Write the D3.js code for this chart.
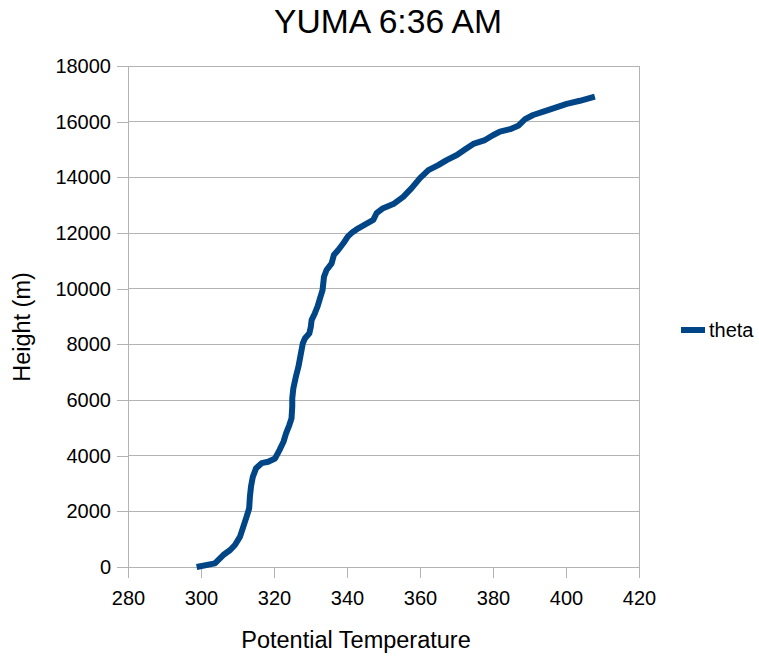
<!DOCTYPE html>
<html><head><meta charset="utf-8">
<script src="https://cdn.jsdelivr.net/npm/d3@7"></script>
<style>body{margin:0;background:#fff}svg{font-family:"Liberation Sans",Arial,sans-serif}</style>
</head><body>
<svg id="c" width="759" height="657"></svg>
<script>
const theta = [298.8,303.8,306.1,308.0,309.3,310.7,311.6,312.5,313.2,313.4,313.7,314.2,315.1,316.6,318.4,320.3,321.5,322.6,323.3,324.2,324.8,325.0,325.0,325.3,326.0,326.7,327.3,327.9,328.5,329.7,330.1,330.3,331.2,331.9,332.6,333.3,333.7,334.4,335.8,336.4,337.6,339.0,340.2,341.5,343.1,344.9,347.2,348.1,349.9,352.7,355.4,357.7,360.0,362.3,365.0,367.3,370.1,372.3,374.6,377.8,380.1,381.9,384.7,386.9,388.8,391.0,393.8,396.5,400.2,403.8,407.9];
const height = [0,130,430,610,790,1090,1450,1810,2110,2530,2890,3240,3550,3730,3780,3900,4200,4500,4800,5100,5340,5760,6060,6420,6840,7200,7620,8040,8220,8400,8640,8870,9120,9350,9650,9950,10430,10670,10910,11210,11390,11630,11870,12030,12170,12300,12470,12710,12890,13040,13300,13610,13970,14260,14440,14620,14800,15000,15200,15340,15520,15640,15730,15850,16090,16240,16360,16480,16640,16750,16900];
const xTicks = [280,300,320,340,360,380,400,420];
const yTicks = [0,2000,4000,6000,8000,10000,12000,14000,16000,18000];
const seriesName = "theta";
const title = "YUMA 6:36 AM";
const xLabel = "Potential Temperature";
const yLabel = "Height (m)";

const svg = d3.select("#c");
const L=128,R=639,T=66,B=567;
const x = d3.scaleLinear().domain([280,420]).range([L,R]);
const y = d3.scaleLinear().domain([0,18000]).range([B,T]);
const grid="#b3b3b3";

svg.append("g").selectAll("line").data(yTicks).join("line")
  .attr("x1",L).attr("x2",R).attr("y1",d=>y(d)).attr("y2",d=>y(d))
  .attr("stroke",grid).attr("stroke-width",1).attr("shape-rendering","crispEdges");
svg.append("line").attr("x1",R).attr("x2",R).attr("y1",T).attr("y2",B).attr("stroke",grid).attr("shape-rendering","crispEdges");

const xa = svg.append("g").attr("transform",`translate(0,${B})`)
  .call(d3.axisBottom(x).tickValues(xTicks).tickSize(11).tickPadding(13).tickSizeOuter(0));
const ya = svg.append("g").attr("transform",`translate(${L},0)`)
  .call(d3.axisLeft(y).tickValues(yTicks).tickSize(11).tickPadding(6).tickFormat(d3.format("d")).tickSizeOuter(0));
[xa,ya].forEach(a=>{
  a.selectAll("path,line").attr("stroke",grid).attr("shape-rendering","crispEdges");
  a.selectAll("text").attr("font-size",20).attr("fill","#000").attr("font-family","Liberation Sans, Arial, sans-serif");
});

const pts = theta.map((t,i)=>[t,height[i]]);
svg.append("path").datum(pts)
  .attr("d",d3.line().x(d=>x(d[0])).y(d=>y(d[1])))
  .attr("fill","none").attr("stroke","#004586").attr("stroke-width",6)
  .attr("stroke-linejoin","round").attr("stroke-linecap","butt");

svg.append("text").attr("x",388).attr("y",33).attr("text-anchor","middle")
  .attr("font-size",34).attr("textLength",228).attr("lengthAdjust","spacingAndGlyphs").text(title);
svg.append("text").attr("x",356).attr("y",648).attr("text-anchor","middle")
  .attr("font-size",23.5).text(xLabel);
svg.append("text").attr("transform","translate(30,327) rotate(-90)").attr("text-anchor","middle")
  .attr("font-size",23.5).text(yLabel);

svg.append("line").attr("x1",681).attr("x2",705).attr("y1",330).attr("y2",330)
  .attr("stroke","#004586").attr("stroke-width",6);
svg.append("text").attr("x",709).attr("y",337).attr("font-size",20).text(seriesName);
</script>
</body></html>
